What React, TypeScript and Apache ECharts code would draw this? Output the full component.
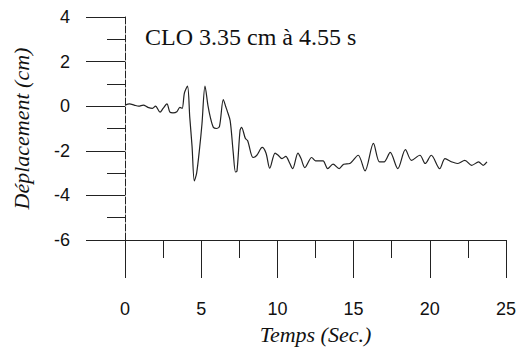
import React, { useEffect, useRef } from "react";
import * as echarts from "echarts";

const titleText = "CLO 3.35 cm à 4.55 s";
const xName = "Temps (Sec.)";
const yName = "Déplacement (cm)";

const times = [
  0, 0.3, 0.6, 0.9, 1.2, 1.5, 1.8, 2.0, 2.3, 2.5, 2.75, 2.95, 3.15, 3.4, 3.6, 3.75,
  3.9, 4.1, 4.25, 4.4, 4.55, 4.7, 4.9, 5.05, 5.25, 5.45, 5.6, 5.8, 6.0, 6.2, 6.45,
  6.6, 6.7, 6.9, 7.1, 7.25, 7.35, 7.55, 7.65, 7.9, 8.05, 8.4, 8.65, 9.0, 9.25, 9.5,
  9.85, 10.05, 10.3, 10.55, 10.8, 11.0, 11.35, 11.55, 11.8, 12.25, 12.5, 12.8, 13.0,
  13.3, 13.65, 14.05, 14.35, 14.75, 15.3, 15.75, 16.3, 16.7, 17.0, 17.4, 17.9, 18.4,
  18.8, 19.35, 19.7, 20.1, 20.65, 21.0, 21.45, 21.8, 22.3, 22.75, 23.2, 23.5, 23.75,
];

const displacement = [
  0.05, 0.1, 0.05, 0.0, 0.05, -0.05, -0.1, 0.0, -0.27, -0.1, 0.1, -0.27, -0.3, -0.25,
  -0.05, -0.1, 0.6, 0.9, -0.5, -1.8, -3.35, -3.0, -1.85, -0.8, 0.9, 0.0, -0.5, -0.95,
  -1.0, -0.9, 0.3, 0.0, -0.2, -0.65, -2.07, -2.95, -2.9, -1.08, -0.95, -1.45, -1.55,
  -2.3, -2.2, -1.85, -2.1, -2.78, -2.1, -2.2, -2.35, -2.25, -2.55, -2.8, -2.1, -2.35,
  -2.75, -2.3, -2.45, -2.45, -2.45, -2.8, -2.6, -2.8, -2.6, -2.57, -2.2, -2.9, -1.67,
  -2.5, -2.5, -2.07, -2.8, -1.95, -2.43, -2.2, -2.57, -2.2, -2.8, -2.35, -2.5, -2.57,
  -2.43, -2.65, -2.5, -2.65, -2.5,
];

const yTicks = [-6, -4, -2, 0, 2, 4];
const xTicks = [0, 5, 10, 15, 20, 25];

export default function App() {
  const ref = useRef<HTMLDivElement>(null);
  useEffect(() => {
    if (!ref.current) return;
    const chart = echarts.init(ref.current, null, { renderer: "svg" });
    const data = times.map((t, i) => [t, displacement[i]]);
    chart.setOption({
      animation: false,
      backgroundColor: "#fff",
      title: {
        text: titleText,
        left: 140,
        top: 20,
        textStyle: {
          fontFamily: "Liberation Serif",
          fontWeight: "normal",
          fontSize: 24,
          color: "#111",
        },
      },
      grid: { left: 125, right: 14, top: 17, bottom: 110 },
      xAxis: {
        type: "value",
        min: xTicks[0],
        max: xTicks[xTicks.length - 1],
        interval: 5,
        name: xName,
        nameLocation: "middle",
        nameGap: 83,
        nameTextStyle: {
          fontFamily: "Liberation Serif",
          fontStyle: "italic",
          fontSize: 22,
          color: "#111",
        },
        axisLine: { show: true, onZero: false, lineStyle: { color: "#222", width: 1 } },
        axisTick: { show: true, inside: false, length: 38, lineStyle: { color: "#222", width: 1 } },
        minorTick: { show: true, splitNumber: 2, length: 18, lineStyle: { color: "#222", width: 1 } },
        axisLabel: {
          margin: 60,
          fontFamily: "Liberation Sans",
          fontSize: 18,
          color: "#111",
        },
        splitLine: { show: false },
      },
      yAxis: {
        type: "value",
        min: yTicks[0],
        max: yTicks[yTicks.length - 1],
        interval: 2,
        name: yName,
        nameLocation: "middle",
        nameRotate: 90,
        nameGap: 93,
        nameTextStyle: {
          fontFamily: "Liberation Serif",
          fontStyle: "italic",
          fontSize: 22,
          color: "#111",
        },
        axisLine: { show: true, lineStyle: { color: "#222", width: 1, type: [7, 2] } },
        axisTick: { show: true, inside: false, length: 39, lineStyle: { color: "#222", width: 1 } },
        minorTick: { show: true, splitNumber: 2, length: 18, lineStyle: { color: "#222", width: 1 } },
        axisLabel: {
          margin: 55,
          fontFamily: "Liberation Sans",
          fontSize: 18,
          color: "#111",
        },
        splitLine: { show: false },
      },
      series: [
        {
          type: "line",
          data,
          smooth: 0.3,
          showSymbol: false,
          lineStyle: { color: "#222", width: 1.2 },
        },
      ],
    });
    return () => chart.dispose();
  }, []);
  return (
    <div
      ref={ref}
      style={{ position: "fixed", left: 0, top: 0, width: 520, height: 350 }}
    />
  );
}
